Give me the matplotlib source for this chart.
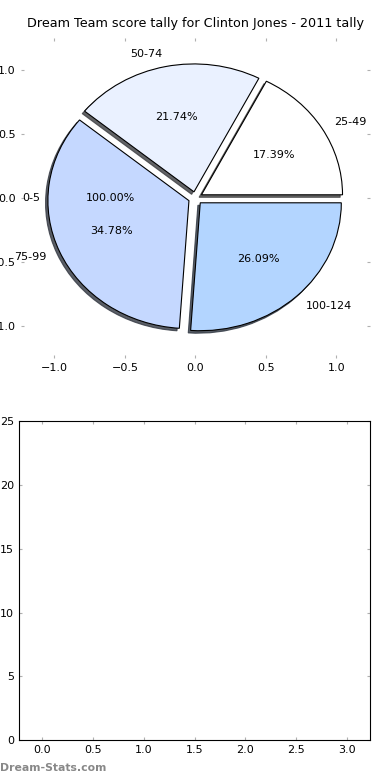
import matplotlib
matplotlib.use("Agg")
import matplotlib.pyplot as plt

labels = ['25-49', '50-74', '75-99', '100-124']
counts = [4, 5, 8, 6]
colors = ['#ffffff', '#eaf1ff', '#c5d8ff', '#b3d5ff']
explode = [0.05, 0.05, 0.05, 0.05]

# the empty 0-5 bucket ends up as its own pie call
empty_label = ['0-5']
empty_count = [1]

fig = plt.figure(figsize=(3.9, 7.8), dpi=100)

ax1 = fig.add_axes([0.0526, 0.541, 0.897, 0.41])
ax1.pie(counts, labels=labels, colors=colors, explode=explode, autopct='%1.2f%%',
        shadow={'ox': -0.012, 'oy': -0.014, 'shade': 0.75, 'alpha': 0.8}, frame=True,
        wedgeprops={'linewidth': 0.8, 'edgecolor': 'black'},
        textprops={'fontsize': 8})
ax1.pie(empty_count, labels=empty_label, autopct='%1.2f%%', frame=True,
        wedgeprops={'fill': False, 'linewidth': 0}, textprops={'fontsize': 8})
ax1.set_aspect('auto')
ax1.set_xlim(-1.24, 1.24)
ax1.set_ylim(-1.25, 1.25)
ax1.set_xticks([-1.0, -0.5, 0.0, 0.5, 1.0])
ax1.set_yticks([-1.0, -0.5, 0.0, 0.5, 1.0])
for s in ax1.spines.values():
    s.set_visible(False)
ax1.tick_params(direction='in', color='#b0b0b0', labelsize=8, top=True, right=True, length=2.5)
ax1.set_title('Dream Team score tally for Clinton Jones - 2011 tally', fontsize=9.2, pad=8)

ax2 = fig.add_axes([0.049, 0.051, 0.9, 0.409])
ax2.set_xlim(-0.225, 3.225)
ax2.set_ylim(0, 25)
ax2.set_xticks([0.0, 0.5, 1.0, 1.5, 2.0, 2.5, 3.0])
ax2.set_yticks([0, 5, 10, 15, 20, 25])
ax2.tick_params(direction='in', color='#b0b0b0', labelsize=8, top=True, right=True, length=2.5)

fig.text(0.0, 0.012, 'Dream-Stats.com', fontsize=7.8, color='#888888', fontweight='bold')

fig.savefig('out.png', dpi=100)
